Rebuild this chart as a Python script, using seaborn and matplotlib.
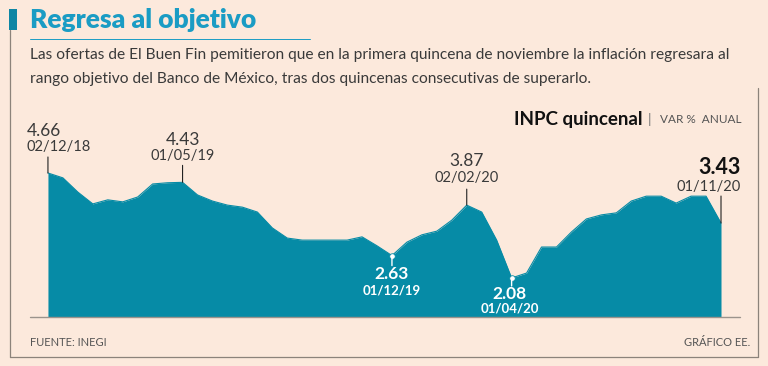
import numpy as np
import pandas as pd
import matplotlib.pyplot as plt
from matplotlib.lines import Line2D
from matplotlib.patches import Rectangle
import seaborn as sns

# INPC quincenal, variacion % anual (1a quincena dic-2018 a 1a quincena nov-2020)
inflacion = [4.66, 4.54, 4.19, 3.90, 4.00, 3.95, 4.07, 4.39, 4.42, 4.43,
             4.12, 3.97, 3.87, 3.82, 3.70, 3.31, 3.06, 3.01, 3.01, 3.01,
             3.01, 3.09, 2.87, 2.63, 2.96, 3.14, 3.23, 3.50, 3.87, 3.70,
             3.01, 2.08, 2.20, 2.84, 2.84, 3.21, 3.53, 3.63, 3.68, 3.97,
             4.09, 4.09, 3.92, 4.09, 4.09, 3.43]

# puntos destacados
destacados = [0, 9, 23, 28, 31, 45]
fechas = ["02/12/18", "01/05/19", "01/12/19", "02/02/20", "01/04/20", "01/11/20"]

titulo = "Regresa al objetivo"
subtitulo = ["Las ofertas de El Buen Fin pemitieron que en la primera quincena de noviembre la inflación regresara al",
             "rango objetivo del Banco de México, tras dos quincenas consecutivas de superarlo."]

BG = "#fce9dc"
TEAL = "#068ba6"
TITLE_C = "#1a9cc4"
GRAY = "#3a3a3a"
FRAME = "#8c837b"

sns.set_theme(style="white")
plt.rcParams["font.family"] = ["Lato", "DejaVu Sans"]

W, H = 768, 366
fig = plt.figure(figsize=(W / 100, H / 100), dpi=100, facecolor=BG)


def fx(px):
    return px / W


def fy(py):
    return 1 - py / H


ax = fig.add_axes([fx(30), fy(317), fx(740) - fx(30), fy(150) - fy(317)])
ax.set_facecolor("none")

df = pd.DataFrame({"q": np.arange(len(inflacion)), "valor": inflacion})
sns.lineplot(data=df, x="q", y="valor", color=TEAL, lw=0.8, ax=ax)
ax.fill_between(df["q"], df["valor"], 0, color=TEAL, lw=0)

ax.set_xlim(-1.2, len(inflacion) - 1 + 1.27)
ax.set_ylim(1.12, 5.225)
ax.axis("off")
ax.axhline(1.12, color="#9b938c", lw=1.0, clip_on=False)

PT = 0.72  # px -> pt


def etiqueta(i, dx, dy_val, dy_fecha, linea, ha="center", oscuro=True, grande=False):
    v = inflacion[i]
    f = fechas[destacados.index(i)]
    if oscuro:
        ax.annotate("", xy=(i, v), xytext=(0, linea * PT), textcoords="offset points",
                    arrowprops=dict(arrowstyle="-", lw=0.8, color="#222222", shrinkA=0, shrinkB=0))
        if grande:
            estilo = dict(fontsize=15.5, fontweight="bold", color="#111111")
        else:
            estilo = dict(fontsize=12.5, color=GRAY)
        ax.annotate(f"{v:.2f}", xy=(i, v), xytext=(dx * PT, dy_val * PT), textcoords="offset points",
                    ha=ha, va="center", **estilo)
        ax.annotate(f, xy=(i, v), xytext=(dx * PT, dy_fecha * PT), textcoords="offset points",
                    ha=ha, va="center", fontsize=10.5, color=GRAY)
    else:
        ax.annotate("", xy=(i, v), xytext=(0, linea * PT), textcoords="offset points",
                    arrowprops=dict(arrowstyle="-", lw=1.0, color="white", shrinkA=0, shrinkB=0))
        ax.plot([i], [v], "o", ms=4, color="white", mec=TEAL, mew=0.6)
        ax.annotate(f"{v:.2f}", xy=(i, v), xytext=(dx * PT, dy_val * PT), textcoords="offset points",
                    ha=ha, va="center", fontsize=12.5, fontweight="bold", color="white")
        ax.annotate(f, xy=(i, v), xytext=(dx * PT, dy_fecha * PT), textcoords="offset points",
                    ha=ha, va="center", fontsize=9.5, fontweight="bold", color="white")


etiqueta(0, -21, 42, 26, 16, ha="left")
etiqueta(9, 0, 42, 26, 17)
etiqueta(28, 0, 44, 27, 16)
etiqueta(45, 20, 56, 36, 27, ha="right", grande=True)
etiqueta(23, 0, -18, -35, -10, oscuro=False)
etiqueta(31, -2, -16, -31, -8, oscuro=False)

# titulo y textos
fig.add_artist(Rectangle((fx(9), fy(30)), fx(8), fy(9) - fy(30), color="#0e86a4", lw=0))
fig.text(fx(30), fy(20), titulo, fontsize=19, fontweight="heavy", color=TITLE_C, va="center", ha="left")
fig.add_artist(Line2D([fx(30), fx(310)], [fy(39), fy(39)], color=TITLE_C, lw=0.7))
fig.text(fx(30), fy(55), subtitulo[0], fontsize=11.2, color=GRAY, va="center", ha="left")
fig.text(fx(30), fy(79), subtitulo[1], fontsize=11.2, color=GRAY, va="center", ha="left")

fig.text(fx(642), fy(119), "INPC quincenal", fontsize=13.5, fontweight="bold", color="#111111",
         va="center", ha="right")
fig.text(fx(648), fy(119), "|", fontsize=10, color="#777777", va="center", ha="left")
fig.text(fx(741), fy(120), "VAR %  ANUAL", fontsize=8.5, color="#555555", va="center", ha="right")

fig.text(fx(30), fy(342), "FUENTE: INEGI", fontsize=8, color="#555555", va="center", ha="left")
fig.text(fx(750), fy(342), "GRÁFICO EE.", fontsize=8, color="#555555", va="center", ha="right")

# marco
fig.add_artist(Line2D([fx(10), fx(10)], [fy(30), fy(357)], color=FRAME, lw=0.9))
fig.add_artist(Line2D([fx(10), fx(758)], [fy(357), fy(357)], color=FRAME, lw=0.9))
fig.add_artist(Line2D([fx(758), fx(758)], [fy(88), fy(357)], color=FRAME, lw=0.9))

fig.savefig("out.png", dpi=100, facecolor=BG)
